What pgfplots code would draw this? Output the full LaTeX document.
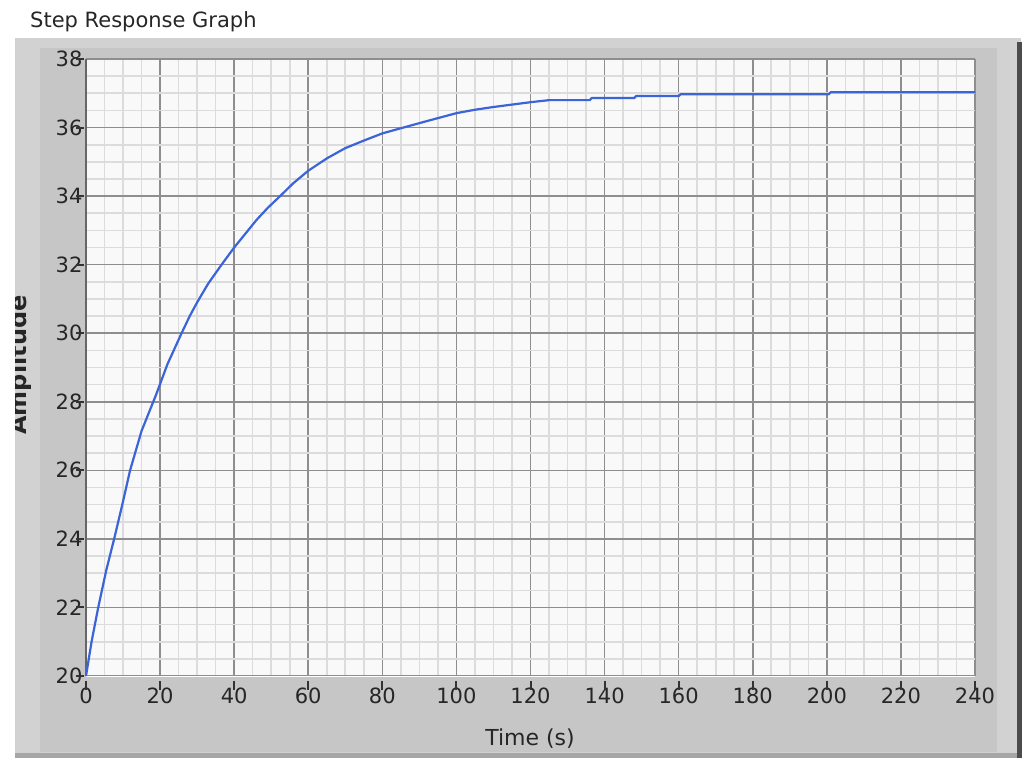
\documentclass[border=0pt]{standalone}
\usepackage{pgfplots}
\pgfplotsset{compat=1.18}
\usepackage{fontspec}
\setmainfont{DejaVu Sans}
\definecolor{framebg}{HTML}{C6C6C6}
\definecolor{frameout}{HTML}{D2D2D2}
\definecolor{plotbg}{HTML}{F9F9F9}
\definecolor{majgrid}{HTML}{8E8E8E}
\definecolor{mingrid}{HTML}{DCDCDC}
\definecolor{curve}{HTML}{3A64D8}
\pgfplotstableread{
t v
0 20
1.5 21.0
3.3 22
5.5 23.1
7.6 24
9.8 25.0
11.9 26
15 27.15
18.9 28.2
22 29.1
25.8 30
28 30.5
30 30.9
33 31.45
36.6 32
40 32.5
43 32.9
46 33.3
49 33.65
52.4 34
56 34.38
60 34.74
65 35.1
70 35.4
75 35.62
80 35.83
85 35.98
92.4 36.2
100 36.42
105 36.52
110 36.6
115 36.67
120 36.74
125 36.8
136 36.8
136.5 36.86
148 36.86
148.5 36.92
160 36.92
160.5 36.97
200.5 36.97
201 37.03
240 37.03
}\steptable
\begin{document}
\begin{tikzpicture}[x=1pt,y=1pt]
\useasboundingbox (0,0) rectangle (1025,-764);
\fill[white] (0,0) rectangle (1025,-764);
% frame
\fill[frameout] (15,-38) rectangle (1021,-758);
\fill[framebg] (40,-48) rectangle (997,-752);
\fill[gray!60!black] (1017,-42) rectangle (1022,-758);
\fill[gray!70] (15,-753) rectangle (1017,-758);
\node[anchor=base west, font=\fontsize{21}{25}\selectfont, text=black!85, inner sep=0pt] at (30,-27) {Step Response Graph};
\begin{scope}
\clip (15,-38) rectangle (60,-758);
\node[rotate=90, anchor=base, font=\fontsize{24}{28}\selectfont\bfseries, text=black!85, inner sep=0pt] at (26,-365) {Amplitude};
\end{scope}
\node[anchor=base, font=\fontsize{22}{26}\selectfont, text=black!85, inner sep=0pt] at (530,-745) {Time (s)};
\begin{axis}[
  at={(86pt,-676pt)}, anchor=origin,
  scale only axis, width=889pt, height=617pt,
  xmin=0, xmax=240, ymin=20, ymax=38,
  xtick={0,20,...,240}, ytick={20,22,...,38},
  minor x tick num=3, minor y tick num=3,
  grid=both,
  major grid style={majgrid, line width=1.6pt},
  minor grid style={mingrid, line width=1.6pt},
  axis background/.style={fill=plotbg},
  axis x line*=bottom, axis y line*=left,
  x axis line style={draw=white, line width=1pt},
  y axis line style={draw=gray!80!black, line width=2pt},
  major tick length=0pt, minor tick length=0pt,
  tick style={draw=none},
  /pgf/number format/assume math mode=true,
  ticklabel style={font=\fontsize{21}{25}\selectfont, text=black!85},
  xticklabel={\rule{0pt}{24pt}\pgfmathprintnumber{\tick}},
  yticklabel={\pgfmathprintnumber{\tick}\hspace{5pt}},
  clip=false,
]
\addplot[curve, line width=2.2pt, line join=round] table[x=t,y=v] {\steptable};
\pgfplotsinvokeforeach{0,20,...,240}{
  \draw[black!80, line width=2pt] ([yshift=-5pt]axis cs:#1,20) -- ([yshift=-14pt]axis cs:#1,20);
}
\pgfplotsinvokeforeach{20,22,...,38}{
  \draw[black!80, line width=2pt] ([xshift=-2pt]axis cs:0,#1) -- ([xshift=-10pt]axis cs:0,#1);
}
\end{axis}
\end{tikzpicture}
\end{document}
